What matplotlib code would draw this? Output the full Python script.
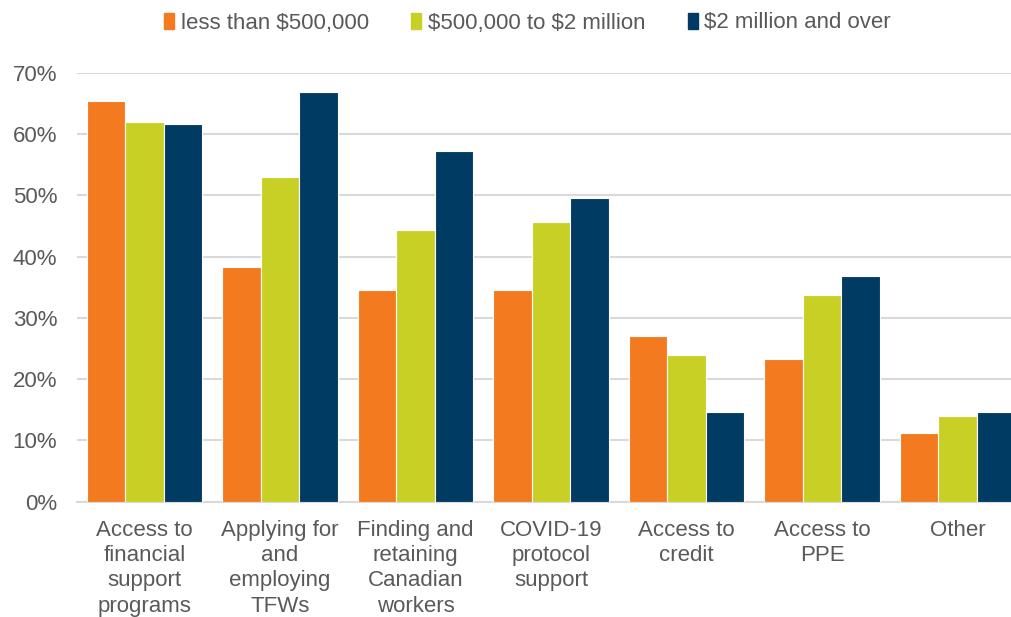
import numpy as np
import matplotlib.pyplot as plt
from matplotlib.patches import Patch

plt.rcParams['font.family'] = ['Liberation Sans', 'DejaVu Sans']
plt.rcParams['text.parse_math'] = False

# Data
categories = ['Access to\nfinancial\nsupport\nprograms',
              'Applying for\nand\nemploying\nTFWs',
              'Finding and\nretaining\nCanadian\nworkers',
              'COVID-19\nprotocol\nsupport',
              'Access to\ncredit',
              'Access to\nPPE',
              'Other']
series_names = ['less than $500,000', '$500,000 to $2 million', '$2 million and over']
small = [65.4, 38.3, 34.6, 34.6, 27.1, 23.3, 11.2]
medium = [62.0, 52.9, 44.3, 45.7, 23.9, 33.8, 14.0]
large = [61.6, 66.8, 57.3, 49.5, 14.6, 36.8, 14.6]
colors = ['#F47A20', '#C8D026', '#003B63']

fig = plt.figure(figsize=(10.11, 6.17), dpi=100)
# axes runs slightly past the right edge, as in the original crop
ax = fig.add_axes([76.75 / 1011, 115.3 / 617, 948.5 / 1011, 429 / 617])

x = np.arange(len(categories))
w = 0.284
for i, vals in enumerate([small, medium, large]):
    ax.bar(x + (i - 1) * w, np.array(vals) / 100, w, color=colors[i],
           edgecolor='white', linewidth=0.8, zorder=3, label=series_names[i])

ax.set_xlim(-0.5, len(categories) - 0.5)
ax.set_ylim(0, 0.7)
ax.set_yticks(np.arange(0, 0.71, 0.1))
ax.set_yticklabels([f'{int(round(v * 100))}%' for v in np.arange(0, 0.71, 0.1)])
ax.yaxis.grid(True, color='#D9D9D9', linewidth=1.5, zorder=0)
ax.set_xticks(x)
ax.set_xticklabels(categories, linespacing=1.27)

for s in ['top', 'right', 'left']:
    ax.spines[s].set_visible(False)
ax.spines['bottom'].set_color('#D9D9D9')
ax.spines['bottom'].set_linewidth(1.5)
ax.tick_params(axis='both', length=0, labelsize=16, labelcolor='#595959')
ax.tick_params(axis='x', pad=13)
ax.tick_params(axis='y', pad=14)

handles = [Patch(color=c) for c in colors]
fig.legend(handles, series_names, loc='center', bbox_to_anchor=(0.522, 1 - 23 / 617),
           ncol=3, frameon=False, fontsize=16, labelcolor='#595959',
           handlelength=0.45, handleheight=0.7, handletextpad=0.3, columnspacing=1.9)

fig.savefig('out.png', dpi=100)
